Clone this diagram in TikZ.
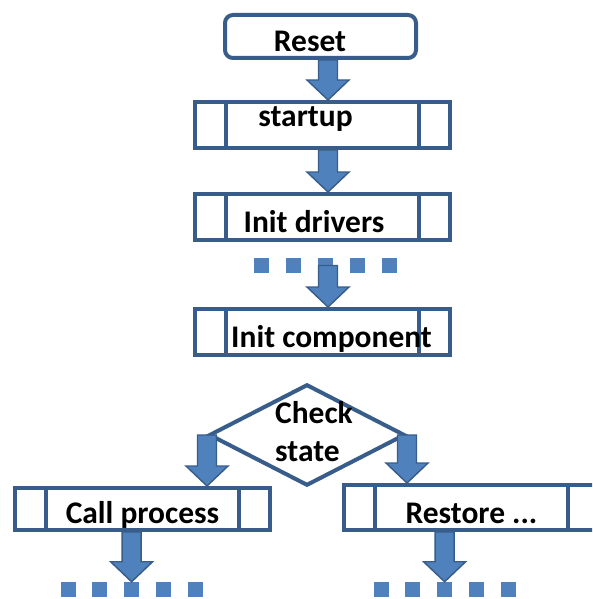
\documentclass[tikz,border=0pt]{standalone}
\usepackage{fontspec}
\setmainfont{Carlito}
\usetikzlibrary{calc,shapes.geometric}

\newcommand{\txtfont}{\fontsize{23.6}{28.5}\selectfont\bfseries}
% block arrow from #1 straight down to the level of #2
\newcommand{\blockarrow}[2]{%
\path (#1) coordinate (ba-s) (#2) coordinate (ba-e0) ;
\coordinate (ba-e) at (ba-e0 -| ba-s) ;
\draw [blockarrow] ($(ba-s)+(-9.5,0)$) -- ($(ba-s)+(9.5,0)$) -- ($(ba-e)+(9.5,-20)$) -- ($(ba-e)+(21,-20)$) -- (ba-e) -- ($(ba-e)+(-21,-20)$) -- ($(ba-e)+(-9.5,-20)$) -- cycle ;
}

\begin{document}
\begin{tikzpicture}[x=0.75pt,y=0.75pt,yscale=-1,xscale=1,
  boxline/.style={draw={rgb, 255:red, 56; green, 93; blue, 138 }, line width=3pt},
  startbox/.style={boxline, fill=white, rounded corners=6pt, minimum width=143.25pt, minimum height=32.25pt, inner sep=0pt, font=\txtfont, text height=23.25pt, text depth=0pt},
  procbox/.style={boxline, fill=white, minimum width=191.25pt, minimum height=34.5pt, inner sep=0pt, font=\txtfont, text height=23.25pt, text depth=0pt,
    path picture={\draw [boxline] ([xshift=23.6pt]path picture bounding box.north west) -- ([xshift=23.6pt]path picture bounding box.south west) ([xshift=-23.6pt]path picture bounding box.north east) -- ([xshift=-23.6pt]path picture bounding box.south east) ;}},
  decision/.style={diamond, boxline, fill=white, minimum width=147pt, minimum height=76pt, inner sep=0pt},
  dotsq/.style={rectangle, fill={rgb, 255:red, 79; green, 129; blue, 189 }, minimum size=11.25pt, inner sep=0pt},
  blockarrow/.style={draw={rgb, 255:red, 56; green, 93; blue, 138 }, fill={rgb, 255:red, 79; green, 129; blue, 189 }, line width=1.1pt, line join=miter}]
\useasboundingbox (0,0) rectangle (592,599) ;
\clip (0,0) rectangle (592,599) ;

\coordinate (spine) at (328,0) ;

%Shape: Dotted rows
\foreach \i in {0,...,4} \node [dotsq] (drvdot\i) at (261+32*\i,265.5) {} ;
\foreach \i in {0,...,4} \node [dotsq] (cdot\i) at (68+31.8*\i,589.5) {} ;
\foreach \i in {0,...,4} \node [dotsq] (rdot\i) at (381+31.8*\i,589.5) {} ;

%Shape: Rounded Rect
\node [startbox] (reset) at (320.5,36.5) {Reset\hspace*{15.75pt}} ;
%Shape: Process boxes
\node [procbox, text height=3pt] (startup) at (322.5,125) {startup\hspace*{25.5pt}} ;
\node [procbox] (drivers) at (322.5,217) {Init drivers\hspace*{12.75pt}} ;
\node [procbox] (initcomp) at (322.5,332) {\hspace*{13.5pt}Init component} ;
\node [procbox, minimum height=31.5pt, text height=21pt] (call) at (142.5,509) {Call process} ;
\node [procbox, minimum height=33.75pt] (restore) at (471.5,507.5) {Restore ...} ;

%Shape: Diamond
\node [decision] (check) at (307,435) {} ;
% Text Node
\node [font=\txtfont, align=left, inner sep=0pt] (checktext) at (314,432) {Check\\state} ;

%Block arrows
\blockarrow{reset.south -| spine}{startup.north}
\blockarrow{startup.south -| spine}{drivers.north}
\blockarrow{drvdot2.center -| spine}{initcomp.north}
\blockarrow{check.west}{call.north}
\blockarrow{check.east}{restore.north}
\blockarrow{call.south -| cdot2}{cdot2.north}
\blockarrow{restore.south -| rdot2}{rdot2.north}

\end{tikzpicture}
\end{document}
